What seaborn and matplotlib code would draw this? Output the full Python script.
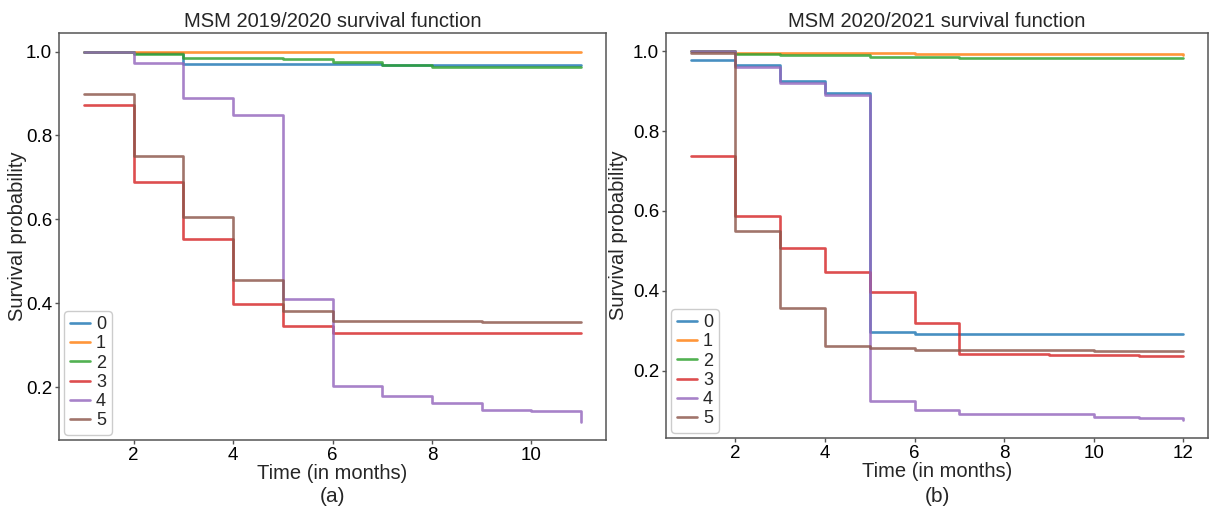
import numpy as np
import pandas as pd
import matplotlib
matplotlib.use("Agg")
import matplotlib.pyplot as plt
import seaborn as sns

# ---------------- data ----------------
groups = ["0", "1", "2", "3", "4", "5"]

months_a = [1, 2, 3, 4, 5, 6, 7, 8, 9, 10, 11]
surv_a_0 = [1.0, 0.997, 0.970, 0.970, 0.970, 0.970, 0.969, 0.969, 0.969, 0.969, 0.969]
surv_a_1 = [1.0, 1.0, 1.0, 1.0, 1.0, 1.0, 1.0, 1.0, 1.0, 1.0, 1.0]
surv_a_2 = [1.0, 0.995, 0.985, 0.985, 0.981, 0.975, 0.968, 0.964, 0.964, 0.964, 0.964]
surv_a_3 = [0.873, 0.690, 0.552, 0.399, 0.345, 0.328, 0.328, 0.328, 0.328, 0.328, 0.328]
surv_a_4 = [1.0, 0.972, 0.888, 0.849, 0.411, 0.202, 0.178, 0.161, 0.145, 0.142, 0.118]
surv_a_5 = [0.898, 0.750, 0.606, 0.456, 0.382, 0.358, 0.358, 0.358, 0.354, 0.354, 0.354]

months_b = [1, 2, 3, 4, 5, 6, 7, 8, 9, 10, 11, 12]
surv_b_0 = [0.978, 0.965, 0.926, 0.895, 0.297, 0.292, 0.292, 0.292, 0.292, 0.292, 0.292, 0.292]
surv_b_1 = [1.0, 0.996, 0.996, 0.996, 0.996, 0.993, 0.993, 0.993, 0.993, 0.993, 0.993, 0.992]
surv_b_2 = [1.0, 0.993, 0.991, 0.991, 0.987, 0.987, 0.984, 0.984, 0.984, 0.984, 0.984, 0.983]
surv_b_3 = [0.737, 0.588, 0.508, 0.446, 0.397, 0.318, 0.242, 0.242, 0.239, 0.239, 0.236, 0.236]
surv_b_4 = [1.0, 0.961, 0.922, 0.890, 0.124, 0.102, 0.091, 0.091, 0.091, 0.084, 0.080, 0.077]
surv_b_5 = [0.997, 0.549, 0.358, 0.261, 0.256, 0.252, 0.252, 0.252, 0.252, 0.249, 0.249, 0.249]

titles = ["MSM 2019/2020 survival function", "MSM 2020/2021 survival function"]
panel_tags = ["(a)", "(b)"]
xlabel = "Time (in months)"
ylabel = "Survival probability"


def long_frame(months, series):
    rows = []
    for g, vals in zip(groups, series):
        for t, v in zip(months, vals):
            rows.append({"time": t, "surv": v, "group": g})
    return pd.DataFrame(rows)


df_a = long_frame(months_a, [surv_a_0, surv_a_1, surv_a_2, surv_a_3, surv_a_4, surv_a_5])
df_b = long_frame(months_b, [surv_b_0, surv_b_1, surv_b_2, surv_b_3, surv_b_4, surv_b_5])

# ---------------- style ----------------
sns.set_style("ticks")
plt.rcParams["font.family"] = ["Liberation Sans", "DejaVu Sans"]
plt.rcParams["axes.edgecolor"] = "#555555"
plt.rcParams["axes.linewidth"] = 1.1
plt.rcParams["xtick.color"] = "#555555"
plt.rcParams["ytick.color"] = "#555555"
plt.rcParams["xtick.labelcolor"] = "black"
plt.rcParams["ytick.labelcolor"] = "black"

palette = dict(zip(groups, sns.color_palette("tab10", 6)))

W, H = 1209, 514
fig = plt.figure(figsize=(W / 100, H / 100), dpi=100)
ax1 = fig.add_axes([59 / W, 1 - 440 / H, 547 / W, 407 / H])
ax2 = fig.add_axes([666 / W, 1 - 438 / H, 542 / W, 405 / H])
label_x = [-0.058, -0.070]

for ax, df, title, tag, lx in zip([ax1, ax2], [df_a, df_b], titles, panel_tags, label_x):
    sns.lineplot(data=df, x="time", y="surv", hue="group", hue_order=groups,
                 palette=palette, drawstyle="steps-post", linewidth=1.9,
                 alpha=0.82, legend=False, ax=ax, errorbar=None)
    ax.margins(x=0.05, y=0.05)
    ax.set_title(title, fontsize=14.5, pad=4)
    ax.set_xlabel(xlabel, fontsize=14.5, labelpad=0)
    ax.set_ylabel(ylabel, fontsize=14.5)
    ax.yaxis.set_label_coords(lx, 0.5)
    ax.tick_params(axis="both", labelsize=13.5, length=3, width=1, pad=2)
    ax.set_xticks([2, 4, 6, 8, 10] if ax is ax1 else [2, 4, 6, 8, 10, 12])
    ax.set_yticks([0.2, 0.4, 0.6, 0.8, 1.0])
    for sp in ax.spines.values():
        sp.set_visible(True)
    handles = ax.get_lines()[:len(groups)]
    leg = ax.legend(handles, groups, loc="lower left", fontsize=13,
                    handlelength=1.1, handletextpad=0.35, labelspacing=0.12,
                    borderpad=0.3, borderaxespad=0.3, frameon=True,
                    fancybox=True, framealpha=1)
    leg.get_frame().set_edgecolor("#cccccc")
    bb = ax.get_position()
    fig.text((bb.x0 + bb.x1) / 2, 1 - 497 / H, tag, ha="center", va="center",
             fontsize=15)

fig.savefig("out.png", dpi=100)
